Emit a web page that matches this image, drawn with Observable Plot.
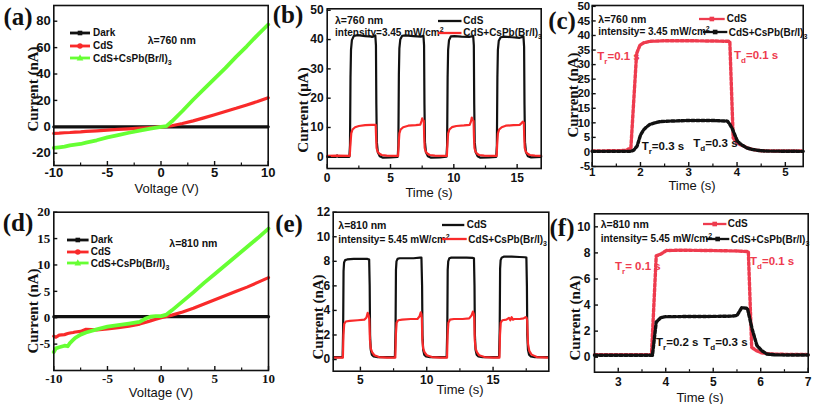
<!DOCTYPE html>
<html><head><meta charset="utf-8">
<script src="https://cdn.jsdelivr.net/npm/d3@7"></script>
<script src="https://cdn.jsdelivr.net/npm/@observablehq/plot@0.6"></script>
<style>
body{margin:0;background:#fff}
#root{position:relative;width:814px;height:404px;overflow:hidden;background:#fff}
.t{position:absolute;white-space:nowrap;line-height:1;font-family:"Liberation Sans",Arial,sans-serif;color:#111}
.pl{font-family:"Liberation Serif","Times New Roman",serif;font-weight:bold;font-size:25px}
.yl{font-family:"Liberation Serif","Times New Roman",serif;font-weight:bold;font-size:15px}
.xl{font-size:13px}
.lg{font-weight:bold;font-size:10px}
.an{font-weight:bold;font-size:10.5px}
.in{font-weight:bold;font-size:10px}
.tr{font-weight:bold;font-size:11.5px}
sub,sup{font-size:70%;line-height:0}
</style></head>
<body><div id="root"></div>
<script>
// ---------- colours ----------
const RED = "#f92a2a", GREEN = "#66ff33", BLACK = "#111111", PINK = "#ee3b4e";

// ---------- panel (a): I-V at 760 nm ----------
const aV    = [-10,-9.5,-9,-8.5,-8,-7.5,-7,-6,-5,-4,-3,-2,-1,0,0.5,1,2,3,4,5,6,7,8,9,10];
const aDark = [0,0,0,0,0,0,0,0,0,0,0,0,0,0,0,0,0,0,0,0,0,0,0,0,0];
const aCdS  = [-5,-4.8,-4.5,-4.3,-4,-3.8,-3.5,-3,-2.5,-2,-1.5,-1,-0.5,0,0.3,0.8,2.5,4.5,6.8,9.2,11.6,14,16.6,19.2,22];
const aMix  = [-16,-15.5,-15,-14,-13.5,-13,-12,-10.2,-8,-6.3,-4.5,-2.8,-1.3,0,0.5,4,12,20.5,28.5,36.5,44.5,53,61,69.5,77.5];
const aXTicks = [-10,-5,0,5,10], aXMinor = [-7.5,-2.5,2.5,7.5], aYTicks = [-20,0,20,40,60,80];

// ---------- panel (d): I-V at 810 nm ----------
const dV    = [-10,-9.8,-9.5,-9,-8.7,-8.5,-8.2,-8,-7.5,-7,-6,-5,-4,-3,-2,-1.5,-1,-0.5,0,0.5,1,2,3,4,5,6,7,8,9,10];
const dDark = [0.2,0.2,0.2,0.2,0.2,0.2,0.2,0.2,0.2,0.2,0.2,0.2,0.2,0.2,0.2,0.2,0.2,0.2,0.2,0.2,0.2,0.2,0.2,0.2,0.2,0.2,0.2,0.2,0.2,0.2];
const dCdS  = [-3.5,-3.7,-3.3,-3.2,-3.0,-2.9,-2.8,-2.7,-2.6,-2.2,-2.3,-2.1,-1.9,-1.6,-1.2,-0.9,-0.6,-0.3,0,0.25,0.5,1.1,1.8,2.6,3.4,4.2,5.0,5.8,6.7,7.6];
const dMix  = [-6.5,-5.8,-5.6,-5.3,-5.4,-4.8,-4.2,-3.8,-3.2,-2.8,-2.2,-1.7,-1.4,-1.1,-0.8,-0.2,0.2,0.3,0.3,0.6,1.4,3.1,4.8,6.6,8.3,10,11.7,13.4,15.1,16.9];
const dXTicks = [-10,-5,0,5,10], dXMinor = [-7.5,-2.5,2.5,7.5], dYTicks = [-5,0,5,10,15,20];

// ---------- panel (b): on/off cycles, 760 nm ----------
const bT1 = [0,0.7,0.78,0.86,1.75,1.8,1.84,1.88,1.95,2.1,2.4,3.0,3.6,3.8,3.85,3.88,3.92,4.0,4.15,4.4,
             5.0,5.57,5.62,5.66,5.7,5.77,5.92,6.2,6.8,7.4,7.6,7.65,7.68,7.72,7.8,7.95,8.2,
             8.9,9.42,9.47,9.51,9.55,9.62,9.77,10.05,10.6,11.2,11.53,11.58,11.61,11.65,11.73,11.88,12.1,
             12.8,13.35,13.4,13.44,13.48,13.55,13.7,14.0,14.6,15.2,15.5,15.55,15.58,15.62,15.7,15.85,16.1,16.9];
const bCdS = [0,0,0.5,0,0,4,27,36.5,39.8,41.2,41.5,41.2,41,41.4,38,18,5,1.5,0.2,-0.3,
              -0.2,0,4,28,37,40,41.3,41.4,41.2,41,41.3,38,18,5,1.5,0.2,-0.3,
              -0.2,0,4,27,36.5,39.8,41.1,41.2,41,40.9,41.2,38,18,5,1.5,0.2,-0.3,
              -0.2,0,4,27,36.5,39.6,40.8,41,40.8,40.6,41,37.5,18,5,1.5,0.2,-0.2,0];
const bT2 = [0,0.8,1.78,1.83,1.9,2.0,2.2,2.5,3.0,3.5,3.83,3.86,3.9,3.98,4.1,4.3,4.7,5.3,
             5.6,5.64,5.7,5.8,6.0,6.4,7.0,7.35,7.45,7.5,7.56,7.63,7.66,7.7,7.78,7.9,8.1,8.5,9.2,
             9.45,9.49,9.55,9.65,9.85,10.2,10.8,11.25,11.35,11.42,11.48,11.56,11.59,11.63,11.71,11.83,12.0,12.4,13.2,
             13.38,13.42,13.48,13.58,13.78,14.1,14.7,15.2,15.35,15.45,15.53,15.56,15.6,15.68,15.8,16.0,16.4,16.9];
const bMix = [0.3,0.4,0.3,4,8,9.3,10.1,10.5,10.8,10.9,10.9,7,3,1.8,1.1,0.6,0.4,0.3,
              0.3,4,8,9.3,10.1,10.6,10.8,11,12.2,13.1,12.5,12.3,7,3,1.8,1.1,0.6,0.4,0.3,
              0.3,4,8,9.3,10.1,10.5,10.7,10.9,12,13.4,12.6,12.2,7,3,1.8,1.1,0.6,0.4,0.3,
              0.3,4,8,9.3,10.1,10.6,10.8,10.9,11.5,12,11.6,7,3,1.8,1.1,0.6,0.4,0.3];
const bXTicks = [0,5,10,15], bXMinor = [2.5,7.5,12.5], bYTicks = [0,10,20,30,40,50];

// ---------- panel (c): single pulse, 760 nm ----------
const cT1  = [1.0,1.7,1.75,1.8,1.92,1.99,2.07,2.2,2.5,3.0,3.5,3.85,3.92,4.0,4.07,4.14,4.21,4.34,4.5,5.0,5.37];
const cCdS = [0.3,0.5,1.0,1.1,33.8,36.7,37.5,38.0,38.2,38.2,38.1,38.0,4.8,3.1,2.5,2.0,1.4,0.8,0.4,0.3,0.3];
const cT2  = [1.0,1.8,1.86,1.93,2.0,2.06,2.12,2.2,2.3,2.4,2.6,3.0,3.5,3.8,3.85,3.9,3.95,4.0,4.05,4.12,4.2,4.3,4.45,4.6,5.37];
const cMix = [0.2,0.2,0.6,2.0,5.8,7.5,8.5,9.5,10.0,10.4,10.6,10.8,10.8,10.6,9.5,8.0,6.0,4.0,3.0,2.2,1.4,0.9,0.5,0.3,0.2];
const cXTicks = [1,2,3,4,5], cXMinor = [1.5,2.5,3.5,4.5], cYTicks = [-5,0,5,10,15,20,25,30,35,40,45,50];

// ---------- panel (e): on/off cycles, 810 nm ----------
const eT1 = [3.0,3.4,3.66,3.7,3.73,3.77,3.85,4.0,4.5,5.0,5.5,5.66,5.7,5.73,5.78,5.86,6.0,6.3,
             7.6,7.65,7.68,7.72,7.8,7.95,8.5,9.0,9.5,9.6,9.65,9.68,9.73,9.81,9.95,10.25,
             11.5,11.55,11.58,11.62,11.7,11.85,12.4,13.0,13.45,13.56,13.6,13.63,13.68,13.76,13.9,14.2,
             15.45,15.5,15.53,15.57,15.65,15.8,16.4,17.0,17.4,17.51,17.55,17.58,17.63,17.71,17.85,18.15,19.1];
const eCdS = [0.2,0.2,0.2,2.5,7.2,7.9,8.1,8.15,8.2,8.2,8.2,8.15,6,2,0.8,0.4,0.25,0.2,
              0.2,2.5,7.3,8.0,8.2,8.25,8.25,8.25,8.3,8.3,6,2,0.8,0.4,0.25,0.2,
              0.2,2.5,7.3,8.0,8.25,8.3,8.3,8.3,8.28,8.25,6,2,0.8,0.4,0.25,0.2,
              0.2,2.5,7.4,8.1,8.3,8.38,8.38,8.35,8.33,8.3,6,2,0.8,0.4,0.25,0.2,0.2];
const eT2 = [3.0,3.5,3.68,3.72,3.78,3.9,4.2,4.8,5.3,5.45,5.55,5.62,5.67,5.72,5.78,5.88,6.05,6.4,7.0,
             7.63,7.67,7.73,7.85,8.15,8.8,9.3,9.45,9.55,9.6,9.63,9.67,9.73,9.83,10.0,10.4,11.0,
             11.53,11.57,11.63,11.75,12.05,12.7,13.2,13.38,13.48,13.55,13.58,13.62,13.68,13.78,13.95,14.35,15.0,
             15.48,15.52,15.58,15.7,16.0,16.2,16.3,16.4,16.5,16.6,17.0,17.3,17.45,17.52,17.57,17.63,17.73,17.9,18.3,19.1];
const eMix = [0.15,0.15,0.15,2.0,2.9,3.1,3.15,3.2,3.25,3.4,3.8,3.6,3.3,1.6,0.9,0.6,0.35,0.2,0.15,
              0.15,2.0,3.0,3.2,3.25,3.3,3.3,3.5,3.85,3.7,3.4,1.6,0.9,0.6,0.35,0.2,0.15,
              0.15,2.0,3.0,3.25,3.3,3.3,3.35,3.6,3.9,3.7,3.4,1.6,0.9,0.6,0.35,0.2,0.15,
              0.15,2.0,3.0,3.2,3.25,3.4,3.2,3.45,3.25,3.3,3.3,3.35,3.45,3.4,3.2,1.3,0.7,0.4,0.2,0.15];
const eXTicks = [5,10,15], eXMinor = [7.5,12.5,17.5], eYTicks = [0,2,4,6,8,10,12];

// ---------- panel (f): single pulse, 810 nm ----------
const fT1  = [2.5,3.0,3.5,3.7,3.8,3.9,4.01,4.2,4.5,5.0,5.5,5.74,5.81,5.91,6.02,6.2,6.5,7.0];
const fCdS = [0.2,0.2,0.2,0.2,7.77,7.92,8.18,8.2,8.2,8.18,8.15,8.1,0.76,0.5,0.33,0.25,0.22,0.2];
const fT2  = [2.5,3.0,3.5,3.72,3.8,3.9,4.0,4.5,5.0,5.4,5.5,5.6,5.72,5.82,5.92,6.02,6.13,6.3,6.6,7.0];
const fMix = [0.15,0.15,0.15,0.15,2.7,3.04,3.11,3.12,3.13,3.15,3.2,3.8,3.75,2.15,0.9,0.5,0.25,0.18,0.17,0.17];
const fXTicks = [3,4,5,6,7], fXMinor = [3.5,4.5,5.5,6.5], fYTicks = [0,2,4,6,8,10];

const root = document.getElementById("root");
const SANS = '"Liberation Sans", Arial, sans-serif', SERIF = '"Liberation Serif", "Times New Roman", serif';
const fmt = d => String(d);

function panel(o) {
  const innerH = o.height - o.mT - o.mB, innerW = o.width - o.mL - o.mR;
  const svg = Plot.plot({
    width: o.width, height: o.height,
    marginLeft: o.mL, marginRight: o.mR, marginTop: o.mT, marginBottom: o.mB,
    x: {domain: o.xDomain}, y: {domain: o.yDomain},
    style: {background: "transparent", fontFamily: o.family || SANS, color: "#111", overflow: "visible"},
    marks: [
      ...o.marks,
      Plot.frame({stroke: "#111", strokeWidth: 1.6}),
      Plot.tickX(o.xTicks, {x: d => d, insetTop: innerH - 4, stroke: "#111", strokeWidth: 1.4}),
      Plot.tickX(o.xMinor, {x: d => d, insetTop: innerH - 2.5, stroke: "#111", strokeWidth: 1.2}),
      Plot.tickY(o.yTicks, {y: d => d, insetRight: innerW - 4, stroke: "#111", strokeWidth: 1.4}),
      Plot.axisX(o.xTicks, {tickSize: 0, tickPadding: o.xPad, fontSize: o.fs, fontWeight: "bold", label: null, tickFormat: fmt}),
      Plot.axisY(o.yTicks, {tickSize: 0, tickPadding: o.yPad, fontSize: o.fs, fontWeight: "bold", label: null, tickFormat: fmt})
    ]
  });
  svg.style.position = "absolute";
  svg.style.left = o.left + "px";
  svg.style.top = o.top + "px";
  root.appendChild(svg);
}
const ln = (ys, xs, stroke, w, extra = {}) => Plot.line(ys, {x: xs, y: ys, stroke, strokeWidth: w, ...extra});
const dotted = (ys, xs, stroke) => [
  ln(ys, xs, stroke, 1.2),
  ln(ys, xs, stroke, 3.4, {strokeDasharray: "3,2"})
];

panel({left: 0, top: 0, width: 272, height: 200, mL: 53.3, mR: 4.3, mT: 5, mB: 35,
  xDomain: [-10, 10], yDomain: [-29.3, 91.9], xTicks: aXTicks, xMinor: aXMinor, yTicks: aYTicks,
  fs: 13, xPad: 2, yPad: 3,
  marks: [ln(aDark, aV, BLACK, 3.2), ln(aCdS, aV, RED, 3.2), ln(aMix, aV, GREEN, 3.8)]});

panel({left: 272, top: 0, width: 273, height: 200, mL: 54.7, mR: 4.3, mT: 8.3, mB: 32,
  xDomain: [0, 16.9], yDomain: [-4, 50.5], xTicks: bXTicks, xMinor: bXMinor, yTicks: bYTicks,
  fs: 12, xPad: 5, yPad: 3.5,
  marks: [ln(bCdS, bT1, BLACK, 2.2), ln(bMix, bT2, RED, 2.2)]});

panel({left: 545, top: 0, width: 269, height: 200, mL: 46.7, mR: 11.3, mT: 5, mB: 34,
  xDomain: [1, 5.37], yDomain: [-5, 50.3], xTicks: cXTicks, xMinor: cXMinor, yTicks: cYTicks,
  fs: 11.5, xPad: 1, yPad: 2,
  marks: [...dotted(cCdS, cT1, PINK), ...dotted(cMix, cT2, BLACK)]});

panel({left: 0, top: 200, width: 272, height: 204, mL: 53.3, mR: 4, mT: 11.7, mB: 34,
  xDomain: [-10, 10], yDomain: [-10, 20], xTicks: dXTicks, xMinor: dXMinor, yTicks: dYTicks,
  fs: 13, xPad: 3, yPad: 3.5, family: SERIF,
  marks: [ln(dDark, dV, BLACK, 3.2), ln(dCdS, dV, RED, 3.2), ln(dMix, dV, GREEN, 3.8)]});

panel({left: 272, top: 200, width: 281, height: 204, mL: 60.7, mR: 4.7, mT: 11.7, mB: 33.3,
  xDomain: [2.95, 19.2], yDomain: [-0.95, 12], xTicks: eXTicks, xMinor: eXMinor, yTicks: eYTicks,
  fs: 12, xPad: 4, yPad: 3,
  marks: [ln(eCdS, eT1, BLACK, 2.2), ln(eMix, eT2, RED, 2.2)]});

panel({left: 553, top: 200, width: 261, height: 204, mL: 41, mR: 6.3, mT: 13.3, mB: 32.3,
  xDomain: [2.5, 7], yDomain: [-1.15, 11], xTicks: fXTicks, xMinor: fXMinor, yTicks: fYTicks,
  fs: 12, xPad: 5, yPad: 4,
  marks: [...dotted(fCdS, fT1, PINK), ...dotted(fMix, fT2, BLACK)]});

// ---------- text overlays ----------
function txt(x, y, html, cls, opts = {}) {
  const d = document.createElement("div");
  d.className = "t " + cls;
  d.innerHTML = html;
  d.style.left = x + "px";
  d.style.top = y + "px";
  d.style.transform = opts.rot ? "translate(-50%,-50%) rotate(-90deg)" : (opts.mid ? "translate(-50%,-50%)" : "translateY(-50%)");
  if (opts.color) d.style.color = opts.color;
  root.appendChild(d);
}
function sw(x1, x2, y, color, marker, lw = 2.5) {
  const w = x2 - x1, h = 10, cx = w / 2;
  const s = document.createElementNS("http://www.w3.org/2000/svg", "svg");
  s.setAttribute("width", w); s.setAttribute("height", h);
  s.style.cssText = `position:absolute;left:${x1}px;top:${y - h / 2}px;overflow:visible`;
  let inner = `<line x1="0" y1="5" x2="${w}" y2="5" stroke="${color}" stroke-width="${lw}"/>`;
  if (marker === "square") inner += `<rect x="${cx - 2.3}" y="2.7" width="4.6" height="4.6" fill="${color}"/>`;
  if (marker === "circle") inner += `<circle cx="${cx}" cy="5" r="2.7" fill="${color}"/>`;
  if (marker === "triangle") inner += `<path d="M${cx},1.3L${cx + 3.3},7.6L${cx - 3.3},7.6Z" fill="${color}"/>`;
  s.innerHTML = inner;
  root.appendChild(s);
}
const MIX = "CdS+CsPb(Br/I)<sub>3</sub>";

// panel letters
txt(18, 15.5, "(a)", "pl", {mid: 1});
txt(288, 14, "(b)", "pl", {mid: 1});
txt(562, 20, "(c)", "pl", {mid: 1});
txt(18, 222, "(d)", "pl", {mid: 1});
txt(289, 223, "(e)", "pl", {mid: 1});
txt(562, 227, "(f)", "pl", {mid: 1});

// y titles
txt(33, 89, "Current (nA)", "yl", {rot: 1});
txt(303, 110, "Current (μA)", "yl", {rot: 1});
txt(573, 95, "Current (nA)", "yl", {rot: 1});
txt(33, 311, "Current (nA)", "yl", {rot: 1});
txt(318, 317, "Current (nA)", "yl", {rot: 1});
txt(575, 318, "Current (nA)", "yl", {rot: 1});

// x titles
txt(166.7, 187.5, "Voltage (V)", "xl", {mid: 1});
txt(429, 192, "Time (s)", "xl", {mid: 1});
txt(692, 185, "Time (s)", "xl", {mid: 1});
txt(161, 392, "Voltage (V)", "xl", {mid: 1});
txt(460, 389, "Time (s)", "xl", {mid: 1});
txt(700, 396.5, "Time (s)", "xl", {mid: 1});

// (a) legend
sw(70, 90, 33.3, BLACK, "square", 2.8); txt(93, 33.3, "Dark", "lg");
sw(70, 90, 46, RED, "circle", 2.8); txt(93, 46, "CdS", "lg");
sw(70, 90, 58.3, GREEN, "triangle", 2.8); txt(93, 58.8, MIX, "lg");
txt(147.7, 40, "λ=760 nm", "an");

// (d) legend
sw(66.7, 88.3, 240, BLACK, "square", 2.8); txt(90.7, 240, "Dark", "lg");
sw(66.7, 88.3, 251.7, RED, "circle", 2.8); txt(90.7, 251.7, "CdS", "lg");
sw(66.7, 88.3, 263.3, GREEN, "triangle", 2.8); txt(90.7, 263.8, MIX, "lg");
txt(169.3, 243.3, "λ=810 nm", "an");

// (b) legend
txt(335, 20, "λ=760 nm", "an");
txt(335, 33.3, "intensity=3.45 mW/cm<sup>2</sup>", "in");
sw(438, 461.5, 20.5, BLACK, null, 2.3); txt(463.3, 20.5, "CdS", "lg");
sw(438, 461.5, 32.7, RED, null, 2.3); txt(463.3, 33.3, MIX, "lg");

// (c) legend + annotations
txt(598.3, 19.3, "λ=760 nm", "an");
txt(598.3, 32.3, "intensity= 3.45 mW/cm<sup>2</sup>", "in");
sw(699.3, 725, 19.3, PINK, "square", 2.3); txt(726.7, 19.3, "CdS", "lg");
sw(703, 727.3, 32.3, BLACK, "square", 2.3); txt(728.7, 32.8, MIX, "lg");
txt(597.3, 56.7, "T<sub>r</sub>=0.1 s", "tr", {color: PINK});
txt(734, 56, "T<sub>d</sub>=0.1 s", "tr", {color: PINK});
txt(641.7, 146.7, "T<sub>r</sub>=0.3 s", "tr");
txt(693.3, 144, "T<sub>d</sub>=0.3 s", "tr");

// (e) legend
txt(338.3, 225, "λ=810 nm", "an");
txt(338.3, 240, "intensity= 5.45 mW/cm<sup>2</sup>", "in");
sw(441.7, 464, 225, BLACK, null, 2.3); txt(466.7, 225, "CdS", "lg");
sw(442, 466.7, 239.3, RED, null, 2.3); txt(468.3, 239.8, MIX, "lg");

// (f) legend + annotations
txt(600.7, 224.3, "λ=810 nm", "an");
txt(600.7, 239, "intensity= 5.45 mW/cm<sup>2</sup>", "in");
sw(703.3, 726.7, 224.3, PINK, "square", 2.3); txt(727.7, 224.3, "CdS", "lg");
sw(706, 729.3, 239, BLACK, "square", 2.3); txt(730.7, 239.5, MIX, "lg");
txt(615, 266.7, "T<sub>r</sub>= 0.1 s", "tr", {color: PINK});
txt(750, 261.7, "T<sub>d</sub>=0.1 s", "tr", {color: PINK});
txt(656, 343.3, "T<sub>r</sub>=0.2 s", "tr");
txt(703.3, 342.7, "T<sub>d</sub>=0.3 s", "tr");
</script>
</body></html>
